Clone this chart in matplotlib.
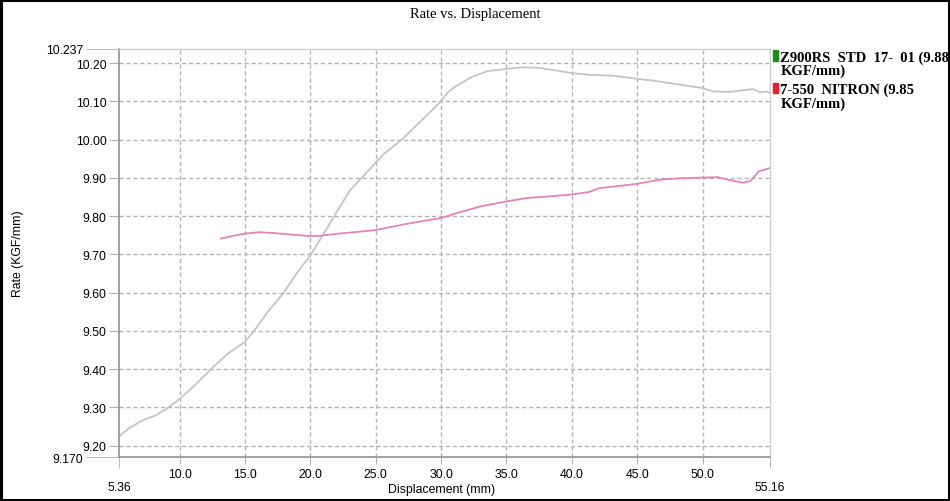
import matplotlib
matplotlib.use("Agg")
import matplotlib.pyplot as plt
from matplotlib.patches import Rectangle

# Z900RS STD (grey curve)
std_disp = [5.36, 5.57, 6.08, 7.09, 8.1, 8.99, 10.0, 11.14, 12.4, 13.67, 14.94, 15.7,
            16.7, 17.97, 19.0, 20.0, 21.0, 22.0, 23.0, 24.2, 25.6, 27.0, 28.35, 29.9,
            30.5, 31.0, 32.3, 33.55, 35.0, 36.1, 37.4, 38.6, 40.0, 41.2, 43.2, 45.0,
            46.3, 47.8, 50.0, 50.8, 52.1, 53.3, 53.9, 54.4, 54.9, 55.16]
std_rate = [9.222, 9.230, 9.244, 9.265, 9.278, 9.296, 9.322, 9.357, 9.400, 9.440, 9.470, 9.500,
            9.548, 9.600, 9.653, 9.697, 9.753, 9.810, 9.866, 9.910, 9.962, 10.000, 10.045, 10.097,
            10.123, 10.137, 10.163, 10.179, 10.185, 10.189, 10.188, 10.182, 10.174, 10.170, 10.167, 10.159,
            10.154, 10.146, 10.135, 10.126, 10.125, 10.130, 10.132, 10.124, 10.126, 10.122]

# 7-550 NITRON (pink curve)
nit_disp = [13.16, 14.0, 15.0, 16.1, 17.8, 19.8, 20.65, 21.8, 24.9, 27.4, 30.0, 31.4,
            33.1, 35.1, 36.5, 39.9, 41.3, 42.1, 44.9, 46.9, 48.3, 51.2, 51.7, 53.1,
            53.7, 54.3, 55.1]
nit_rate = [9.741, 9.748, 9.754, 9.758, 9.754, 9.748, 9.748, 9.753, 9.763, 9.780, 9.795, 9.810,
            9.826, 9.839, 9.847, 9.856, 9.863, 9.873, 9.884, 9.896, 9.899, 9.902, 9.897, 9.887,
            9.893, 9.917, 9.925]

x_min, x_max = 5.36, 55.16
y_min, y_max = 9.170, 10.237
x_major = [10, 15, 20, 25, 30, 35, 40, 45, 50]
y_major = [9.2, 9.3, 9.4, 9.5, 9.6, 9.7, 9.8, 9.9, 10.0, 10.1, 10.2]

legend_labels = ["Z900RS  STD  17-  01 (9.88\nKGF/mm)", "7-550  NITRON (9.85\nKGF/mm)"]
legend_colors = ["#1a8c1a", "#e8202a"]

fig = plt.figure(figsize=(9.5, 5.02), dpi=100)
ax = fig.add_axes([0.1253, 0.0876, 0.6852, 0.8128])

ax.plot(std_disp, std_rate, color="#c2c6c6", lw=1.3)
ax.plot(nit_disp, nit_rate, color="#e783b6", lw=1.3)

ax.set_xlim(x_min, x_max)
ax.set_ylim(y_min, y_max)

ax.set_xticks(x_major)
ax.set_xticklabels([f"{v:.1f}" for v in x_major])
ax.set_xticks([x_min, x_max], minor=True)
ax.set_xticklabels([f"{x_min:.2f}", f"{x_max:.2f}"], minor=True)
ax.set_yticks(y_major)
ax.set_yticklabels([f"{v:.2f}" for v in y_major])
ax.set_yticks([y_min, y_max], minor=True)
ax.set_yticklabels([f"{y_min:.3f}", f"{y_max:.3f}"], minor=True)

for lab in ax.get_xticklabels(which="both") + ax.get_yticklabels(which="both"):
    lab.set_fontfamily("Liberation Sans")
    lab.set_fontsize(8.8)

ax.tick_params(axis="x", which="major", length=5, pad=3, color="#b0b0b0")
ax.tick_params(axis="x", which="minor", length=8, pad=9, color="#b0b0b0")
ax.tick_params(axis="y", which="major", length=7, pad=2, color="#b0b0b0")
ax.tick_params(axis="y", which="minor", length=24, pad=2, color="#b0b0b0")

ax.grid(True, which="major", color="#b4b4b4", ls=(0, (3, 2)), lw=1.0)
for side in ["left", "bottom"]:
    ax.spines[side].set_color("#9a9a9a")
    ax.spines[side].set_linewidth(1.3)
for side in ["top", "right"]:
    ax.spines[side].set_color("#cfcfcf")
    ax.spines[side].set_linewidth(1.0)

ax.set_xlabel("Displacement (mm)", fontfamily="Liberation Sans", fontsize=8.8)
ax.xaxis.set_label_coords(0.495, -0.064)
ax.set_ylabel("Rate (KGF/mm)", fontfamily="Liberation Sans", fontsize=8.8)
ax.yaxis.set_label_coords(-0.146, 0.5)

fig.text(0.5, 0.972, "Rate vs. Displacement", ha="center", va="center",
         fontfamily="Liberation Serif", fontsize=10.5)

# legend on the right
leg_y = [0.885, 0.82]
for lab, col, yy in zip(legend_labels, legend_colors, leg_y):
    fig.patches.append(Rectangle((0.8135, yy - 0.008), 0.0055, 0.021, transform=fig.transFigure,
                                 color=col, figure=fig))
    fig.text(0.8215, yy + 0.013, lab, ha="left", va="top", fontfamily="Liberation Serif",
             fontweight="bold", fontsize=10.5, linespacing=1.0)

# black frame round the picture
fig.patches.append(Rectangle((0.001, 0.002), 0.998, 0.996, transform=fig.transFigure,
                             fill=False, ec="black", lw=2.2, figure=fig))

fig.savefig("out.png", dpi=100)
